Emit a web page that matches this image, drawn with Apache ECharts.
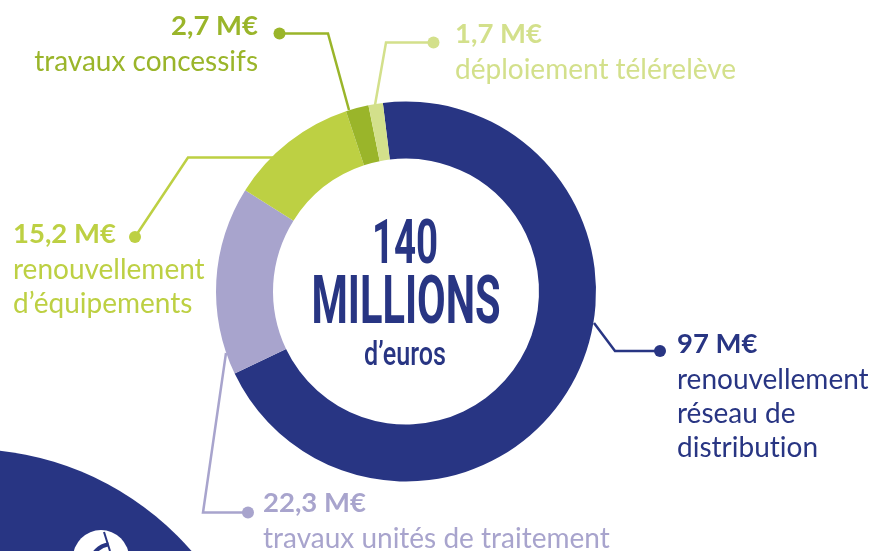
<!DOCTYPE html>
<html>
<head>
<meta charset="utf-8">
<script src="https://cdn.jsdelivr.net/npm/echarts@6/dist/echarts.min.js"></script>
<style>
  html, body { margin: 0; padding: 0; background: #ffffff; }
  #chart { width: 873px; height: 551px; }
</style>
</head>
<body>
<div id="chart"></div>
<script>
// Investment breakdown, in millions of euros
const categories = [
  'renouvellement réseau de distribution',
  'travaux unités de traitement',
  'renouvellement d’équipements',
  'travaux concessifs',
  'déploiement télérelève'
];
const values = [97, 22.3, 15.2, 2.7, 1.7];
const descriptionLines = [
  ['renouvellement', 'réseau de', 'distribution'],
  ['travaux unités de traitement'],
  ['renouvellement', 'd’équipements'],
  ['travaux concessifs'],
  ['déploiement télérelève']
];
const totalLines = ['140', 'MILLIONS', 'd’euros'];

// Styling
const colors = ['#283583', '#a8a4cd', '#bdd043', '#9ab52a', '#d3e08b'];
const ink = '#283583';
const CX = 406, CY = 291.5;

// Leader polylines (ring -> elbow -> dot), label anchor and alignment
const leaders = [
  { pts: [[594, 323], [615, 351], [660, 351]], tx: 677, base: 353, align: 'left' },
  { pts: [[226, 353], [203, 512.5], [248, 512.5]], tx: 263, base: 512, align: 'left' },
  { pts: [[277, 157.5], [188, 157.5], [135, 237]], tx: 13, base: 243, align: 'left' },
  { pts: [[349, 110], [328, 33.5], [279.5, 33.5]], tx: 258, base: 35.5, align: 'right' },
  { pts: [[375, 105], [386, 42.5], [433.5, 42.5]], tx: 455, base: 43, align: 'left' }
];

function euro(v) {
  return String(v).replace('.', ',') + ' M€';
}

// Lato fuses "ti" into a ligature; drawing the two letters in separate
// rich-text runs keeps them apart.
function textLine(s) {
  return '{t|' + s.split('ti').join('t}{t|i') + '}';
}

const chart = echarts.init(document.getElementById('chart'), null, { renderer: 'canvas' });

const data = values.map((v, i) => ({
  name: categories[i],
  value: v,
  itemStyle: { color: colors[i] },
  label: {
    color: colors[i],
    formatter: () => ['{v|' + euro(v) + '}'].concat(descriptionLines[i].map(textLine)).join('\n')
  },
  labelLine: { lineStyle: { color: colors[i] } }
}));

const dots = leaders.map((l, i) => {
  const p = l.pts[l.pts.length - 1];
  return { type: 'circle', shape: { cx: p[0], cy: p[1], r: 6 }, style: { fill: colors[i] }, z: 10 };
});

const TEXT_LH = 34;

const option = {
  animation: false,
  backgroundColor: '#ffffff',
  graphic: [
    // decorative disc in the lower-left corner
    { type: 'circle', shape: { cx: -32, cy: 745, r: 296 }, style: { fill: ink }, z: 0 },
    { type: 'circle', shape: { cx: 101, cy: 558, r: 28 }, style: { fill: '#ffffff' }, z: 1 },
    { type: 'arc', shape: { cx: 112, cy: 566, r: 22, startAngle: Math.PI * 1.05, endAngle: Math.PI * 1.45 }, style: { stroke: ink, lineWidth: 4, fill: null }, z: 2 },
    { type: 'line', shape: { x1: 104, y1: 532, x2: 110, y2: 551 }, style: { stroke: ink, lineWidth: 2 }, z: 2 },
    // total in the middle of the ring
    { type: 'text', x: CX - 1, y: 247.5, scaleX: 0.62, z: 5,
      style: { text: totalLines[0], font: 'bold 62px Roboto', fill: ink, align: 'center', verticalAlign: 'middle' } },
    { type: 'text', x: CX, y: 306.5, scaleX: 0.62, z: 5,
      style: { text: totalLines[1], font: 'bold 67px Roboto', fill: ink, align: 'center', verticalAlign: 'middle' } },
    { type: 'text', x: CX - 1, y: 356, scaleX: 0.74, z: 5,
      style: { text: totalLines[2], font: '500 34px Roboto', fill: ink, align: 'center', verticalAlign: 'middle' } }
  ].concat(dots),
  series: [{
    type: 'pie',
    center: [CX, CY],
    radius: [133, 190],
    startAngle: 97,
    clockwise: true,
    avoidLabelOverlap: false,
    silent: true,
    emphasis: { disabled: true },
    itemStyle: { borderWidth: 0 },
    label: {
      show: true,
      position: 'outside',
      fontFamily: 'Lato',
      rich: {
        v: { fontFamily: 'Lato', fontWeight: 'bold', fontSize: 27.5, lineHeight: 37 },
        t: { fontFamily: 'Lato', fontSize: 28, lineHeight: TEXT_LH }
      }
    },
    labelLine: { show: true, smooth: false, lineStyle: { width: 2.5 } },
    labelLayout: function (params) {
      const l = leaders[params.dataIndex];
      return {
        x: l.tx,
        y: l.base - 27.5,
        align: l.align,
        verticalAlign: 'top',
        labelLinePoints: l.pts
      };
    },
    data: data
  }]
};

chart.setOption(option);
</script>
</body>
</html>
